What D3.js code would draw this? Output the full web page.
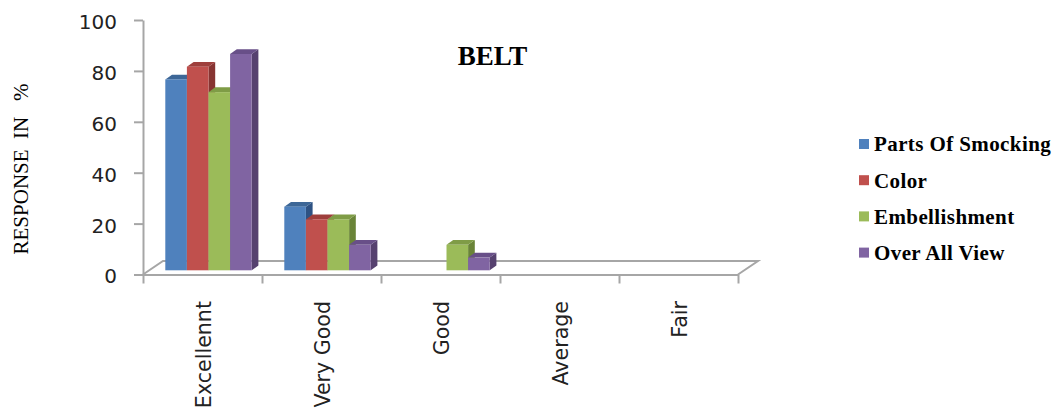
<!DOCTYPE html>
<html>
<head>
<meta charset="utf-8">
<script src="https://cdn.jsdelivr.net/npm/d3@7"></script>
<style>
  html, body { margin: 0; padding: 0; background: #fff; }
  svg { display: block; }
</style>
</head>
<body>
<svg id="chart" width="1058" height="415"></svg>
<script>
const categories = ["Excellennt", "Very Good", "Good", "Average", "Fair"];
const seriesNames = ["Parts Of Smocking", "Color", "Embellishment", "Over All View"];
const partsOfSmocking = [75, 25, 0, 0, 0];
const colorValues = [80, 20, 0, 0, 0];
const embellishment = [70, 20, 10, 0, 0];
const overAllView = [85, 10, 5, 0, 0];
const yTicks = [0, 20, 40, 60, 80, 100];
const chartTitle = "BELT";
const yTitle = "RESPONSE  IN   %";

const seriesValues = [partsOfSmocking, colorValues, embellishment, overAllView];
const frontColors = ["#4F81BD", "#C0504D", "#9BBB59", "#8064A2"];
const topColors = ["#3D6797", "#9E3F3C", "#7F9C46", "#684F88"];
const sideColors = ["#2E5283", "#873432", "#6A8438", "#56416F"];

const svg = d3.select("#chart");

const x0 = 143, x1 = 738, yBase = 274.5;
const y = d3.scaleLinear().domain([0, 100]).range([yBase, 20]);
const x = d3.scaleBand().domain(categories).range([x0, x1]).padding(0);
const groupW = 86.4;
const xs = d3.scaleBand().domain(seriesNames).range([0, groupW]).padding(0);
const barShiftX = 6, barShiftY = -4.2;
const depthX = 6.7, depthY = -4.8;
const floorDX = 20, floorDY = -13.5;
const gridColor = "#A6A6A6";

// Floor
svg.append("path")
  .attr("d", `M${x0},${yBase} L${x0 + floorDX},${yBase + floorDY} L${x1 + floorDX},${yBase + floorDY} L${x1},${yBase}`)
  .attr("fill", "none").attr("stroke", gridColor).attr("stroke-width", 2);

// Y axis
const yAxis = svg.append("g")
  .attr("transform", `translate(${x0},0)`)
  .call(d3.axisLeft(y).tickValues(yTicks).tickSize(9).tickSizeOuter(0).tickPadding(17));
yAxis.select(".domain").attr("stroke", gridColor).attr("stroke-width", 2);
yAxis.selectAll(".tick line").attr("stroke", gridColor).attr("stroke-width", 2);
yAxis.selectAll(".tick text")
  .attr("font-family", "DejaVu Sans").attr("font-size", 20).attr("fill", "#222")
  .attr("dy", "0.42em");

// X axis boundary ticks
const xIdx = d3.scaleLinear().domain([0, categories.length]).range([x0, x1]);
const xAxis = svg.append("g")
  .attr("transform", `translate(0,${yBase})`)
  .call(d3.axisBottom(xIdx).tickValues(d3.range(categories.length + 1)).tickFormat("").tickSize(9).tickSizeOuter(0));
xAxis.select(".domain").attr("stroke", gridColor).attr("stroke-width", 2);
xAxis.selectAll(".tick line").attr("stroke", gridColor).attr("stroke-width", 2);

// Category labels
svg.append("g").selectAll("text")
  .data(categories)
  .join("text")
  .attr("transform", d => `translate(${x(d) + x.bandwidth() / 2 + 1},301) rotate(-90)`)
  .attr("text-anchor", "end")
  .attr("dy", "0.36em")
  .attr("font-family", "DejaVu Sans")
  .attr("font-size", 20.6)
  .attr("fill", "#222")
  .text(d => d);

// Bars (3D)
const bars = [];
categories.forEach((c, ci) => {
  seriesNames.forEach((s, si) => {
    bars.push({ cat: c, ser: s, si, v: seriesValues[si][ci] });
  });
});
const barG = svg.append("g");
bars.filter(d => d.v > 0).forEach(d => {
  const bx = x(d.cat) + (x.bandwidth() - groupW) / 2 + barShiftX + xs(d.ser);
  const bw = xs.bandwidth();
  const top = y(d.v) + barShiftY;
  const bot = y(0) + barShiftY;
  const g = barG.append("g");
  // side face
  g.append("path")
    .attr("d", `M${bx + bw},${bot} L${bx + bw + depthX},${bot + depthY} L${bx + bw + depthX},${top + depthY} L${bx + bw},${top} Z`)
    .attr("fill", sideColors[d.si]);
  // top face
  g.append("path")
    .attr("d", `M${bx},${top} L${bx + depthX},${top + depthY} L${bx + bw + depthX},${top + depthY} L${bx + bw},${top} Z`)
    .attr("fill", topColors[d.si]);
  // front face
  g.append("rect")
    .attr("x", bx).attr("y", top)
    .attr("width", bw).attr("height", bot - top)
    .attr("fill", frontColors[d.si]);
});

// Title
svg.append("text")
  .attr("x", 492.5).attr("y", 65)
  .attr("text-anchor", "middle")
  .attr("font-family", "Liberation Serif").attr("font-weight", "bold")
  .attr("font-size", 27)
  .text(chartTitle);

// Y title
svg.append("text")
  .attr("transform", "translate(21,169) rotate(-90)")
  .attr("text-anchor", "middle")
  .attr("dy", "0.35em")
  .attr("font-family", "Liberation Serif")
  .attr("font-size", 21)
  .style("white-space", "pre")
  .text(yTitle);

// Legend
const legend = svg.append("g").selectAll("g")
  .data(seriesNames)
  .join("g")
  .attr("transform", (d, i) => `translate(859,${144 + i * 36.2})`);
legend.append("rect")
  .attr("x", 0).attr("y", -5).attr("width", 10).attr("height", 10)
  .attr("fill", (d, i) => frontColors[i]);
legend.append("text")
  .attr("x", 15).attr("dy", "0.35em")
  .attr("font-family", "Liberation Serif").attr("font-weight", "bold")
  .attr("font-size", 21).attr("letter-spacing", 0.4)
  .text(d => d);
</script>
</body>
</html>
